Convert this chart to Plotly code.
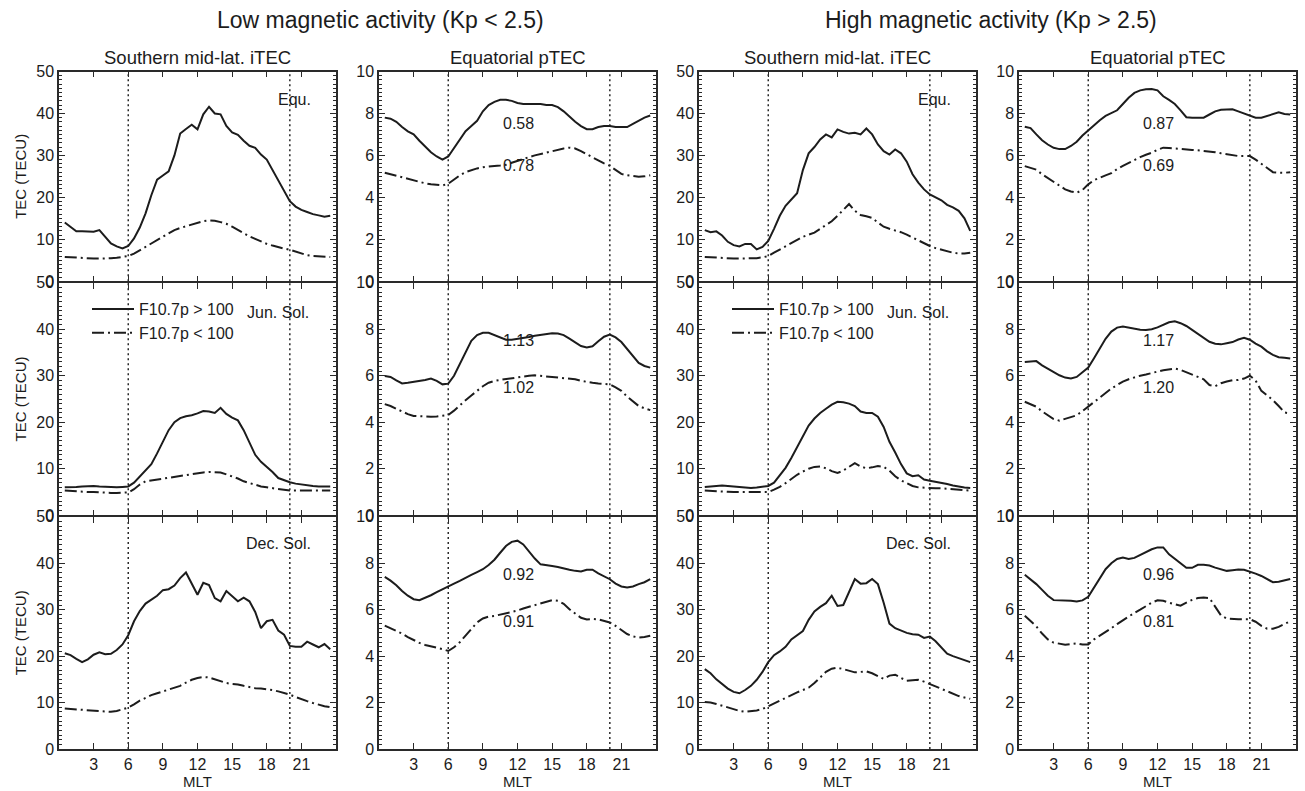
import plotly.graph_objects as go

# ---------------- data ----------------
MLT = [0.5, 1.0, 1.5, 2.0, 2.5, 3.0, 3.5, 4.0, 4.5, 5.0, 5.5, 6.0, 6.5, 7.0, 7.5, 8.0,
       8.5, 9.0, 9.5, 10.0, 10.5, 11.0, 11.5, 12.0, 12.5, 13.0, 13.5, 14.0, 14.5, 15.0,
       15.5, 16.0, 16.5, 17.0, 17.5, 18.0, 18.5, 19.0, 19.5, 20.0, 20.5, 21.0, 21.5,
       22.0, 22.5, 23.0, 23.5]

# Low magnetic activity, southern mid-latitude iTEC (TECU)
low_itec_equ_hi = [14.0, 13.0, 11.9, 11.9, 11.9, 11.8, 12.2, 10.5, 9.0, 8.3, 7.8, 8.4, 10.2, 12.8, 16.2, 20.5,
                   24.2, 25.2, 26.2, 30.0, 35.2, 36.3, 37.3, 36.2, 39.8, 41.6, 40.0, 39.8, 37.0, 35.5,
                   34.9, 33.5, 32.3, 31.8, 30.2, 29.0, 26.5, 24.0, 21.5, 19.1, 17.8, 17.0, 16.5,
                   16.0, 15.7, 15.4, 15.6]
low_itec_equ_lo = [5.8, 5.7, 5.6, 5.5, 5.4, 5.4, 5.4, 5.4, 5.5, 5.6, 5.8, 6.0, 6.6, 7.4, 8.3, 9.2,
                   10.0, 10.8, 11.5, 12.2, 12.7, 13.1, 13.6, 14.0, 14.3, 14.5, 14.4, 14.1, 13.7, 13.0,
                   12.2, 11.4, 10.7, 10.1, 9.5, 8.9, 8.5, 8.1, 7.8, 7.5, 7.1, 6.6, 6.2,
                   6.0, 5.9, 5.8, 5.8]
low_itec_jun_hi = [6.0, 6.0, 6.1, 6.2, 6.3, 6.3, 6.2, 6.1, 6.0, 6.0, 6.1, 6.2, 7.0, 8.3, 9.5, 11.0,
                   13.3, 15.8, 18.3, 20.0, 20.9, 21.3, 21.5, 21.9, 22.4, 22.3, 22.0, 23.1, 21.8, 21.0,
                   20.4, 18.3, 15.6, 13.0, 11.5, 10.5, 9.3, 8.0, 7.5, 7.1, 6.8, 6.6, 6.4,
                   6.3, 6.2, 6.2, 6.2]
low_itec_jun_lo = [5.3, 5.2, 5.2, 5.1, 5.0, 5.0, 4.9, 4.9, 4.8, 4.8, 4.8, 4.9, 5.6, 6.6, 7.3, 7.5,
                   7.7, 7.9, 8.1, 8.3, 8.5, 8.7, 8.9, 9.1, 9.2, 9.3, 9.3, 9.2, 8.8, 8.4,
                   7.9, 7.3, 6.9, 6.5, 6.2, 6.0, 5.8, 5.6, 5.4, 5.3, 5.3, 5.3, 5.3,
                   5.3, 5.3, 5.3, 5.3]
low_itec_dec_hi = [20.6, 20.2, 19.4, 18.7, 19.3, 20.3, 20.8, 20.4, 20.5, 21.3, 22.5, 24.5, 27.5, 29.7, 31.3, 32.1,
                   33.0, 34.2, 34.4, 35.2, 36.8, 38.0, 35.7, 33.2, 35.8, 35.3, 32.5, 31.8, 34.0, 32.8,
                   31.8, 32.6, 31.8, 29.5, 26.0, 27.5, 27.8, 25.5, 24.6, 22.2, 22.0, 22.0, 23.1,
                   22.5, 21.9, 22.6, 21.5]
low_itec_dec_lo = [8.7, 8.6, 8.5, 8.4, 8.3, 8.2, 8.1, 8.0, 8.0, 8.2, 8.5, 8.9, 9.6, 10.4, 11.0, 11.6,
                   12.0, 12.4, 12.8, 13.1, 13.6, 14.3, 14.9, 15.3, 15.5, 15.4, 15.0, 14.6, 14.2, 14.0,
                   13.9, 13.6, 13.3, 13.1, 13.0, 12.9, 12.7, 12.4, 12.1, 11.7, 11.2, 10.7, 10.3,
                   9.9, 9.5, 9.2, 9.0]

# Low magnetic activity, equatorial pTEC (TECU)
low_ptec_equ_hi = [7.8, 7.75, 7.6, 7.35, 7.15, 7.0, 6.7, 6.4, 6.15, 5.95, 5.8, 5.95, 6.35, 6.8, 7.15, 7.4,
                   7.65, 8.1, 8.4, 8.55, 8.65, 8.65, 8.6, 8.5, 8.45, 8.45, 8.45, 8.45, 8.4, 8.4,
                   8.3, 8.1, 7.85, 7.6, 7.4, 7.25, 7.25, 7.35, 7.4, 7.4, 7.35, 7.35, 7.35,
                   7.5, 7.65, 7.8, 7.9]
low_ptec_equ_lo = [5.17, 5.1, 5.0, 4.95, 4.87, 4.8, 4.73, 4.67, 4.62, 4.58, 4.57, 4.65, 4.85, 5.05, 5.2, 5.3,
                   5.38, 5.43, 5.48, 5.5, 5.52, 5.55, 5.65, 5.75, 5.85, 5.92, 6.0, 6.07, 6.13, 6.2,
                   6.27, 6.33, 6.37, 6.33, 6.2, 6.05, 5.9, 5.75, 5.62, 5.5, 5.3, 5.12, 5.05,
                   5.0, 4.98, 5.0, 5.05]
low_ptec_jun_hi = [5.99, 5.95, 5.8, 5.67, 5.7, 5.73, 5.77, 5.82, 5.88, 5.78, 5.63, 5.66, 6.0, 6.5, 7.0, 7.5,
                   7.75, 7.85, 7.85, 7.75, 7.65, 7.55, 7.55, 7.58, 7.62, 7.67, 7.72, 7.76, 7.8, 7.83,
                   7.82, 7.75, 7.6, 7.45, 7.28, 7.22, 7.27, 7.48, 7.68, 7.77, 7.65, 7.45, 7.15,
                   6.85, 6.55, 6.42, 6.35]
low_ptec_jun_lo = [4.78, 4.7, 4.58, 4.46, 4.35, 4.27, 4.25, 4.24, 4.24, 4.25, 4.27, 4.31, 4.5, 4.74, 4.95, 5.15,
                   5.35, 5.55, 5.7, 5.78, 5.82, 5.86, 5.9, 5.94, 5.97, 6.0, 6.02, 6.0, 5.98, 5.95,
                   5.93, 5.91, 5.9, 5.85, 5.78, 5.73, 5.7, 5.67, 5.65, 5.63, 5.5, 5.35, 5.1,
                   4.88, 4.7, 4.6, 4.52]
low_ptec_dec_hi = [7.41, 7.25, 7.05, 6.8, 6.6, 6.45, 6.41, 6.5, 6.62, 6.75, 6.88, 7.02, 7.12, 7.24, 7.38, 7.5,
                   7.62, 7.74, 7.92, 8.15, 8.45, 8.74, 8.92, 8.97, 8.81, 8.5, 8.2, 7.95, 7.9, 7.88,
                   7.84, 7.77, 7.72, 7.67, 7.64, 7.72, 7.72, 7.56, 7.45, 7.31, 7.12, 7.0, 6.95,
                   7.0, 7.1, 7.18, 7.31]
low_ptec_dec_lo = [5.31, 5.2, 5.1, 4.97, 4.82, 4.68, 4.57, 4.48, 4.42, 4.38, 4.3, 4.22, 4.38, 4.6, 4.9, 5.2,
                   5.45, 5.62, 5.7, 5.73, 5.78, 5.85, 5.9, 5.96, 6.05, 6.12, 6.2, 6.28, 6.35, 6.41,
                   6.38, 6.25, 6.02, 5.82, 5.65, 5.58, 5.6, 5.58, 5.52, 5.45, 5.3, 5.12, 4.95,
                   4.85, 4.8, 4.82, 4.88]

# High magnetic activity, southern mid-latitude iTEC (TECU)
high_itec_equ_hi = [12.2, 11.7, 11.9, 10.9, 9.4, 8.6, 8.3, 8.9, 8.9, 7.6, 8.2, 9.6, 12.5, 15.6, 18.0, 19.5,
                    21.0, 26.5, 30.5, 32.0, 33.8, 35.0, 34.3, 36.2, 35.6, 35.2, 35.4, 35.0, 36.4, 35.0,
                    32.6, 31.0, 30.2, 31.4, 30.5, 28.5, 25.5, 23.5, 21.9, 20.7, 20.0, 19.3, 18.2,
                    17.6, 16.8, 15.0, 12.0]
high_itec_equ_lo = [5.8, 5.7, 5.6, 5.5, 5.5, 5.4, 5.4, 5.4, 5.5, 5.5, 5.7, 6.0, 6.8, 7.6, 8.4, 9.2,
                    10.0, 10.6, 11.1, 11.6, 12.5, 13.4, 14.3, 15.6, 17.0, 18.4, 16.8, 15.8, 15.5, 15.1,
                    14.0, 13.0, 12.5, 12.1, 11.7, 11.1, 10.4, 9.7, 9.0, 8.4, 7.9, 7.5, 7.1,
                    6.8, 6.6, 6.6, 6.8]
high_itec_jun_hi = [6.05, 6.2, 6.3, 6.4, 6.3, 6.2, 6.0, 5.9, 5.85, 5.95, 6.1, 6.3, 7.0, 8.5, 10.2, 12.3,
                    14.6, 17.2, 19.3, 20.8, 22.0, 22.9, 23.8, 24.4, 24.3, 24.0, 23.5, 22.3, 22.0, 22.0,
                    21.2, 19.0, 15.8, 13.5, 11.0, 9.0, 8.4, 8.6, 7.7, 7.4, 7.2, 7.0, 6.7,
                    6.4, 6.1, 5.95, 5.85]
high_itec_jun_lo = [5.3, 5.2, 5.2, 5.1, 5.05, 5.0, 5.0, 5.0, 5.0, 5.0, 5.0, 5.0, 5.5, 6.1, 6.9, 7.9,
                    8.7, 9.4, 10.0, 10.4, 10.5, 10.1, 9.5, 9.1, 9.6, 10.4, 11.2, 10.5, 10.1, 10.3,
                    10.6, 10.4, 9.6, 8.4, 7.5, 6.9, 6.3, 6.0, 5.9, 5.8, 5.8, 5.8, 5.7,
                    5.6, 5.5, 5.4, 5.3]
high_itec_dec_hi = [17.2, 16.3, 15.0, 13.9, 13.0, 12.3, 12.0, 12.7, 13.6, 14.9, 16.6, 18.7, 20.2, 21.0, 22.0, 23.6,
                    24.6, 25.4, 27.8, 29.6, 30.6, 31.4, 33.0, 30.8, 31.0, 34.0, 36.6, 35.6, 35.7, 36.6,
                    35.5, 31.5, 27.0, 26.0, 25.5, 25.0, 24.7, 24.6, 23.9, 24.2, 23.2, 21.9, 20.5,
                    20.0, 19.6, 19.2, 18.7]
high_itec_dec_lo = [10.1, 10.0, 9.7, 9.3, 8.9, 8.5, 8.2, 8.0, 8.1, 8.3, 8.6, 9.2, 9.8, 10.4, 11.0, 11.7,
                    12.2, 12.7, 13.2, 14.2, 15.5, 16.6, 17.3, 17.5, 17.2, 16.8, 16.5, 16.6, 16.7, 16.3,
                    15.7, 15.1, 15.8, 16.0, 15.3, 14.7, 14.8, 14.9, 14.5, 14.0, 13.5, 13.0, 12.5,
                    11.9, 11.4, 11.1, 10.8]

# High magnetic activity, equatorial pTEC (TECU)
high_ptec_equ_hi = [7.37, 7.3, 7.0, 6.72, 6.52, 6.36, 6.3, 6.3, 6.45, 6.65, 6.95, 7.2, 7.45, 7.68, 7.88, 8.02,
                    8.15, 8.45, 8.75, 8.98, 9.1, 9.15, 9.17, 9.1, 8.82, 8.65, 8.45, 8.15, 7.82, 7.8,
                    7.8, 7.8, 7.95, 8.1, 8.18, 8.2, 8.2, 8.1, 8.0, 7.87, 7.8, 7.8, 7.88,
                    7.98, 8.05, 7.97, 7.95]
high_ptec_equ_lo = [5.49, 5.42, 5.32, 5.1, 4.92, 4.7, 4.54, 4.38, 4.28, 4.22, 4.35, 4.62, 4.82, 4.95, 5.05, 5.15,
                    5.35, 5.5, 5.65, 5.8, 5.92, 6.03, 6.13, 6.27, 6.37, 6.35, 6.32, 6.3, 6.28, 6.26,
                    6.24, 6.22, 6.2, 6.15, 6.1, 6.05, 6.0, 5.97, 5.97, 5.97, 5.8, 5.6, 5.38,
                    5.2, 5.18, 5.17, 5.2]
high_ptec_jun_hi = [6.59, 6.6, 6.63, 6.45, 6.3, 6.15, 6.02, 5.92, 5.88, 5.95, 6.15, 6.35, 6.75, 7.2, 7.59, 7.9,
                    8.07, 8.12, 8.07, 8.0, 7.98, 7.97, 8.0, 8.08, 8.2, 8.3, 8.34, 8.26, 8.14, 7.96,
                    7.8, 7.6, 7.46, 7.38, 7.35, 7.4, 7.45, 7.56, 7.63, 7.55, 7.38, 7.25, 7.05,
                    6.9, 6.8, 6.77, 6.74]
high_ptec_jun_lo = [4.88, 4.78, 4.67, 4.47, 4.3, 4.14, 4.07, 4.15, 4.25, 4.3, 4.48, 4.68, 4.85, 5.05, 5.25, 5.45,
                    5.6, 5.75, 5.85, 5.94, 6.0, 6.05, 6.13, 6.18, 6.24, 6.28, 6.31, 6.25, 6.16, 6.05,
                    5.95, 5.85, 5.6, 5.55, 5.68, 5.75, 5.81, 5.82, 5.88, 6.0, 5.8, 5.35, 5.15,
                    4.95, 4.7, 4.42, 4.38]
high_ptec_dec_hi = [7.5, 7.3, 7.1, 6.85, 6.6, 6.41, 6.41, 6.41, 6.38, 6.35, 6.4, 6.55, 6.95, 7.35, 7.74, 8.0,
                    8.18, 8.24, 8.18, 8.23, 8.35, 8.45, 8.6, 8.68, 8.68, 8.38, 8.18, 8.0, 7.8, 7.8,
                    7.93, 7.93, 7.9, 7.81, 7.73, 7.67, 7.7, 7.73, 7.72, 7.65, 7.55, 7.45, 7.33,
                    7.18, 7.2, 7.27, 7.32]
high_ptec_dec_lo = [5.74, 5.5, 5.28, 4.97, 4.72, 4.58, 4.52, 4.49, 4.52, 4.55, 4.5, 4.5, 4.72, 4.88, 5.02, 5.2,
                    5.38, 5.55, 5.7, 5.86, 6.0, 6.15, 6.3, 6.4, 6.38, 6.3, 6.22, 6.17, 6.3, 6.42,
                    6.5, 6.52, 6.5, 6.1, 5.75, 5.62, 5.59, 5.59, 5.59, 5.59, 5.48, 5.3, 5.18,
                    5.18, 5.26, 5.38, 5.5]

# ratio labels in the pTEC panels (high-F10.7 label, low-F10.7 label)
low_ptec_ratios = [("0.58", "0.78"), ("1.13", "1.02"), ("0.92", "0.91")]
high_ptec_ratios = [("0.87", "0.69"), ("1.17", "1.20"), ("0.96", "0.81")]

seasons = ["Equ.", "Jun. Sol.", "Dec. Sol."]
activity_titles = ["Low magnetic activity (Kp < 2.5)", "High magnetic activity (Kp > 2.5)"]
column_titles = ["Southern mid-lat. iTEC", "Equatorial pTEC", "Southern mid-lat. iTEC", "Equatorial pTEC"]
series_names = ["F10.7p > 100", "F10.7p < 100"]
x_ticks = [3, 6, 9, 12, 15, 18, 21]
marker_mlt = [6, 20]

# panels[row][col] = (hi series, lo series)
panels = [
    [(low_itec_equ_hi, low_itec_equ_lo), (low_ptec_equ_hi, low_ptec_equ_lo),
     (high_itec_equ_hi, high_itec_equ_lo), (high_ptec_equ_hi, high_ptec_equ_lo)],
    [(low_itec_jun_hi, low_itec_jun_lo), (low_ptec_jun_hi, low_ptec_jun_lo),
     (high_itec_jun_hi, high_itec_jun_lo), (high_ptec_jun_hi, high_ptec_jun_lo)],
    [(low_itec_dec_hi, low_itec_dec_lo), (low_ptec_dec_hi, low_ptec_dec_lo),
     (high_itec_dec_hi, high_itec_dec_lo), (high_ptec_dec_hi, high_ptec_dec_lo)],
]

# ---------------- layout geometry ----------------
W, H = 1305, 791
LW = 1.5  # frame line width
col_px = [(59, 336), (379, 656), (699, 976), (1019, 1296)]
# adjacent rows overlap by one line width so their shared frame lines coincide
row_px = [(71.5, 282 - LW / 2), (282 + LW / 2, 516 - LW / 2), (516 + LW / 2, 749)]
XD = [[a / W, b / W] for a, b in col_px]
YD = [[1 - b / H, 1 - a / H] for a, b in row_px]
title_cx = [380, 991]

INK = "#1c1c1c"
AX = "#2a2a2a"
FONT = "Liberation Sans, Arial, Helvetica, sans-serif"
SOLID = dict(color=INK, width=2)
DASHDOT = dict(color=INK, width=2, dash="12px,4px,2px,4px")

fig = go.Figure()
layout = {}
shapes = []
annotations = []

for r in range(3):
    for c in range(4):
        k = r * 4 + c + 1
        xa = "x" if k == 1 else f"x{k}"
        ya = "y" if k == 1 else f"y{k}"
        hi, lo = panels[r][c]
        is_itec = c in (0, 2)
        leg = None
        if r == 1 and c == 0:
            leg = "legend"
        elif r == 1 and c == 2:
            leg = "legend2"
        fig.add_trace(go.Scatter(x=MLT, y=hi, mode="lines", line=SOLID, name=series_names[0],
                                 xaxis=xa, yaxis=ya, showlegend=leg is not None,
                                 legend=leg if leg else "legend", hoverinfo="skip"))
        fig.add_trace(go.Scatter(x=MLT, y=lo, mode="lines", line=DASHDOT, name=series_names[1],
                                 xaxis=xa, yaxis=ya, showlegend=leg is not None,
                                 legend=leg if leg else "legend", hoverinfo="skip"))

        xkey = "xaxis" if k == 1 else f"xaxis{k}"
        ykey = "yaxis" if k == 1 else f"yaxis{k}"
        layout[xkey] = dict(
            domain=XD[c], anchor=ya, range=[0, 24], tickvals=x_ticks,
            ticks="inside", ticklen=6, tickwidth=1.3, tickcolor=AX,
            showline=True, linewidth=LW, linecolor=AX, mirror="allticks",
            showgrid=False, zeroline=False, showticklabels=(r == 2), automargin=False,
            tickfont=dict(family=FONT, size=16, color=INK),
            title=dict(text="MLT", font=dict(family=FONT, size=15, color=INK), standoff=2) if r == 2 else None,
        )
        layout[ykey] = dict(
            domain=YD[r], anchor=xa, range=[0, 50] if is_itec else [0, 10],
            dtick=10 if is_itec else 2, tick0=0,
            ticks="inside", ticklen=6, tickwidth=1.3, tickcolor=AX,
            minor=dict(ticks="inside", dtick=1 if is_itec else 0.2, ticklen=3, tickwidth=1, tickcolor=AX),
            showline=True, linewidth=LW, linecolor=AX, mirror="allticks",
            showgrid=False, zeroline=False, automargin=False,
            tickfont=dict(family=FONT, size=16, color=INK),
            title=dict(text="TEC (TECU)", font=dict(family=FONT, size=15, color=INK), standoff=6) if c == 0 else None,
        )
        for m in marker_mlt:
            shapes.append(dict(type="line", xref=xa, yref=f"{ya} domain", x0=m, x1=m, y0=0, y1=1,
                               line=dict(color=AX, width=1.5, dash="2px,3px"), layer="below"))
        if is_itec:
            annotations.append(dict(text=seasons[r], xref=xa, yref=ya, x=19.0 if r else 20.4,
                                    y=[43.4, 43.6, 44.2][r], showarrow=False, yanchor="middle",
                                    font=dict(family=FONT, size=16, color=INK)))
        else:
            ratios = low_ptec_ratios if c == 1 else high_ptec_ratios
            for txt, yv in zip(ratios[r], (7.5, 5.5)):
                annotations.append(dict(text=txt, xref=xa, yref=ya, x=12.1, y=yv, showarrow=False,
                                        yanchor="middle", font=dict(family=FONT, size=16, color=INK)))

# titles
for i, t in enumerate(activity_titles):
    annotations.append(dict(text=t, xref="paper", yref="paper", x=title_cx[i] / W, y=1 - 20 / H,
                            xanchor="center", yanchor="middle",
                            showarrow=False, font=dict(family=FONT, size=23, color=INK)))
for c, t in enumerate(column_titles):
    cx = (col_px[c][0] + col_px[c][1]) / 2 / W
    annotations.append(dict(text=t, xref="paper", yref="paper", x=cx, y=1 - 57 / H,
                            xanchor="center", yanchor="middle",
                            showarrow=False, font=dict(family=FONT, size=18.5, color=INK)))

legend_common = dict(xanchor="left", yanchor="top", bgcolor="rgba(0,0,0,0)", borderwidth=0,
                     font=dict(family=FONT, size=16, color=INK), tracegroupgap=0, itemwidth=42)
fig.update_layout(
    width=W, height=H, autosize=False,
    margin=dict(l=0, r=0, t=0, b=0, autoexpand=False),
    paper_bgcolor="white", plot_bgcolor="white",
    font=dict(family=FONT, size=15, color=INK),
    shapes=shapes, annotations=annotations,
    legend=dict(x=87 / W, y=1 - 292 / H, **legend_common),
    legend2=dict(x=(87 + 640) / W, y=1 - 292 / H, **legend_common),
    **layout,
)

fig.write_html(
    "out.html",
    post_script="document.body.style.margin='0px';document.body.style.padding='0px';"
                "document.documentElement.style.overflow='hidden';",
)
